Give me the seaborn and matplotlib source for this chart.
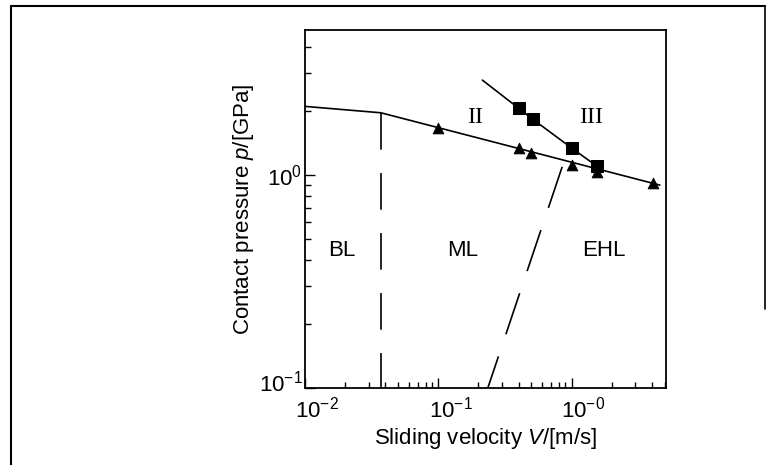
import matplotlib
matplotlib.use("Agg")
import matplotlib.pyplot as plt
import matplotlib.transforms as mtransforms
from matplotlib.lines import Line2D
from matplotlib.ticker import FixedLocator, LogLocator, NullFormatter
import seaborn as sns

# boundary line (lower solid curve) and its measured points
line_v = [0.01, 0.037, 4.6]
line_p = [2.1, 1.96, 0.897]
tri_v = [0.1, 0.4, 0.5, 1.0, 1.55, 4.1]
tri_p = [1.66, 1.34, 1.27, 1.11, 1.03, 0.917]

# upper line with squares (first value is just the line start)
sq_v = [0.214, 0.4, 0.51, 1.0, 1.55]
sq_p = [2.79, 2.06, 1.83, 1.34, 1.10]

# regime borders (dashed)
bl_ml_v = [0.037, 0.037]
bl_ml_p = [1.96, 0.1]
ml_ehl_v = [0.235, 0.87]
ml_ehl_p = [0.1, 1.14]

regions = ["BL", "ML", "EHL"]
region_v = [0.0188, 0.151, 1.74]
region_p = [0.44, 0.44, 0.44]

zones = ["II", "III"]
zone_v = [0.19, 1.41]
zone_p = [1.87, 1.87]

xticks = [0.01, 0.1, 1.0]
xticklabels = ["$10^{-2}$", "$10^{-1}$", "$10^{-0}$"]
yticks = [0.1, 1.0]
yticklabels = ["$10^{-1}$", "$10^{0}$"]

sns.set_style("ticks")
plt.rcParams["font.family"] = ["Liberation Sans", "DejaVu Sans"]
plt.rcParams["mathtext.fontset"] = "custom"
plt.rcParams["mathtext.rm"] = "Liberation Sans"
plt.rcParams["mathtext.it"] = "Liberation Sans:italic"
plt.rcParams["text.color"] = "black"
plt.rcParams["axes.labelcolor"] = "black"

fig = plt.figure(figsize=(7.67, 4.65), dpi=100)
ax = fig.add_axes([0.398, 0.1656, 0.47, 0.77])
ax.set_xscale("log")
ax.set_yscale("log")

sns.lineplot(x=line_v, y=line_p, sort=False, estimator=None, color="black", lw=1.2, ax=ax)
sns.lineplot(x=sq_v, y=sq_p, sort=False, estimator=None, color="black", lw=1.2, ax=ax)
sns.scatterplot(x=tri_v, y=tri_p, marker="^", s=60, color="black", edgecolor="black", ax=ax, zorder=5)
sns.scatterplot(x=sq_v[1:], y=sq_p[1:], marker="s", s=85, color="black", edgecolor="black", ax=ax, zorder=5)

ax.plot(bl_ml_v, bl_ml_p, color="black", lw=1.2, linestyle=(0, (22, 14)))
ax.plot(ml_ehl_v, ml_ehl_p, color="black", lw=1.2, linestyle=(6, (26, 14)))

for t, xv, yv in zip(regions, region_v, region_p):
    ax.text(xv, yv, t, ha="center", va="center", fontsize=16, color="black")
for t, xv, yv in zip(zones, zone_v, zone_p):
    ax.text(xv, yv, t, ha="center", va="center", fontsize=17, color="black",
            family=["Liberation Serif", "DejaVu Serif"])

ax.set_xlim(0.01, 5.1)
ax.set_ylim(0.1, 4.8)
ax.xaxis.set_major_locator(FixedLocator(xticks))
ax.set_xticklabels(xticklabels)
ax.yaxis.set_major_locator(FixedLocator(yticks))
ax.set_yticklabels(yticklabels)
ax.xaxis.set_minor_locator(LogLocator(base=10, subs=range(2, 10)))
ax.yaxis.set_minor_locator(LogLocator(base=10, subs=range(2, 10)))
ax.xaxis.set_minor_formatter(NullFormatter())
ax.yaxis.set_minor_formatter(NullFormatter())
ax.tick_params(which="both", direction="in", top=False, right=False,
               labelsize=16, width=1.0, colors="black")
ax.tick_params(which="major", length=7)
ax.tick_params(which="minor", length=4)
ax.tick_params(axis="x", which="major", pad=6)
ax.tick_params(axis="y", which="major", pad=2)
for sp in ax.spines.values():
    sp.set_linewidth(1.3)
    sp.set_color("black")

# the scanned labels sit a little right of their ticks / above the corner
shift_x = mtransforms.ScaledTranslation(0.12, 0, fig.dpi_scale_trans)
for lab in ax.get_xticklabels():
    lab.set_transform(lab.get_transform() + shift_x)
shift_y = mtransforms.ScaledTranslation(0, 0.07, fig.dpi_scale_trans)
ylabs = ax.get_yticklabels()
ylabs[0].set_transform(ylabs[0].get_transform() + shift_y)

ax.set_xlabel("Sliding velocity $\\mathit{V}$/[m/s]", fontsize=16, labelpad=3)
ax.set_ylabel("Contact pressure $\\mathit{p}$/[GPa]", fontsize=16, labelpad=2)

# outer frame of the scanned figure
fig.add_artist(Line2D([0.014, 0.014], [0.0, 0.987], transform=fig.transFigure, color="black", lw=1.5))
fig.add_artist(Line2D([0.014, 0.997], [0.987, 0.987], transform=fig.transFigure, color="black", lw=1.5))
fig.add_artist(Line2D([0.997, 0.997], [0.987, 0.335], transform=fig.transFigure, color="black", lw=1.2))

fig.savefig("out.png", dpi=100)
